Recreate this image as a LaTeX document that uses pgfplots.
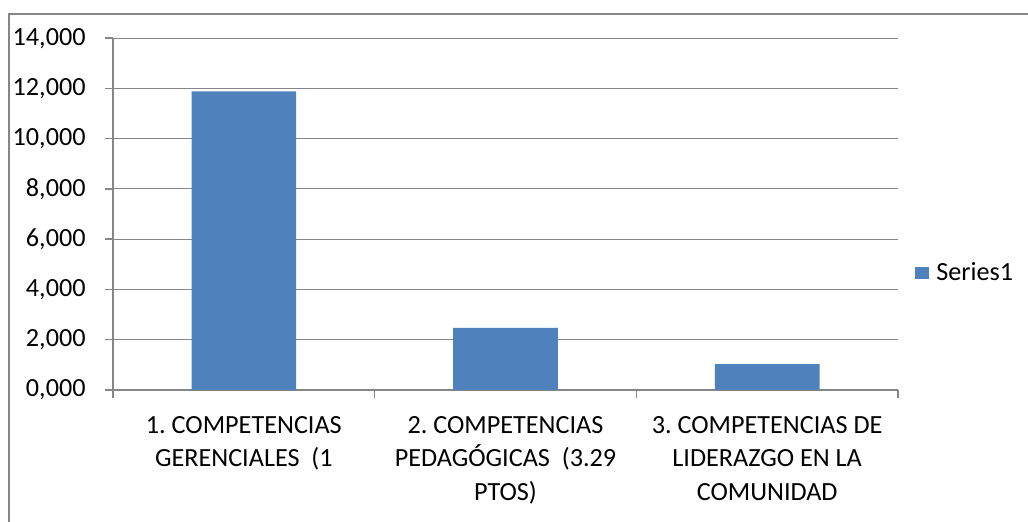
\documentclass[border=0pt]{standalone}
\usepackage{pgfplots}
\pgfplotsset{compat=1.18}
\usepackage{fontspec}
\setmainfont{Carlito}
\frenchspacing
\definecolor{barblue}{RGB}{79,129,189}
\definecolor{linegray}{RGB}{134,134,134}
\newcommand{\chartfont}{\fontsize{13.1}{16.75}\selectfont\frenchspacing}
\begin{document}
\begin{tikzpicture}
\useasboundingbox (0,0) rectangle (514pt,261pt);
\draw[linegray, line width=1pt] (4.5pt,0) -- (4.5pt,254pt) -- (514pt,254pt);
\begin{axis}[
  at={(56.5pt,66pt)}, anchor=south west,
  width=392.5pt, height=175.9pt, scale only axis,
  xmin=-0.5, xmax=2.5, ymin=0, ymax=14,
  axis lines=left,
  axis line style={linegray, line width=0.75pt, -},
  ytick={0,2,...,14},
  scaled y ticks=false,
  ymajorgrids,
  major grid style={linegray, line width=0.5pt},
  xtick={-0.5,0.5,1.5,2.5}, xticklabels={},
  extra x ticks={0,1,2},
  extra x tick labels={{1. COMPETENCIAS\\GERENCIALES\ \ (1},{2. COMPETENCIAS\\PEDAGÓGICAS\ \ (3.29\\PTOS)},{3. COMPETENCIAS DE\\LIDERAZGO EN LA\\COMUNIDAD}},
  extra x tick style={major tick length=0pt},
  tick align=outside,
  major tick length=4pt,
  tick style={linegray, line width=0.75pt},
  xticklabel style={align=center, anchor=north, inner sep=0pt, font=\chartfont},
  yticklabel style={anchor=east, inner sep=0pt, font=\chartfont,
    /pgf/number format/fixed, /pgf/number format/fixed zerofill,
    /pgf/number format/precision=3, /pgf/number format/use comma,
    /pgf/number format/assume math mode=true},
  x tick label style={yshift=-13pt},
  yticklabel style={xshift=-9.5pt},
  legend style={at={(1,0.333)}, anchor=west, xshift=8.5pt, draw=none, fill=none,
    inner sep=0pt, font=\chartfont, nodes={inner sep=0pt}},
  legend image code/.code={\fill[barblue] (0pt,-3pt) rectangle (7pt,3pt); \path (10.5pt,0pt);},
]
\addplot[ybar, bar width=0.4, fill=barblue, draw=none] coordinates {(0,11.88) (1,2.47) (2,1.03)};
\addlegendentry{Series1}
\end{axis}
\end{tikzpicture}
\end{document}
